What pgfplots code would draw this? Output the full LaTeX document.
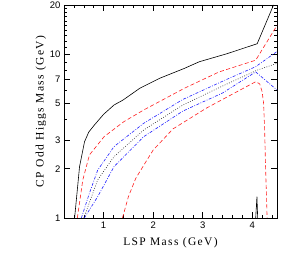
\documentclass[border=0pt]{standalone}
\usepackage{fontspec}
\setmainfont{Liberation Serif}
\setsansfont{Liberation Sans}
\newfontfamily\labfont[LetterSpace=12]{Liberation Serif}
\usepackage{pgfplots}
\pgfplotsset{compat=1.18}
\definecolor{myred}{RGB}{255,30,30}
\definecolor{myblue}{RGB}{30,30,255}
\begin{document}
\begin{tikzpicture}
\begin{axis}[
  scale only axis, width=213pt, height=213pt,
  xmin=0.2, xmax=4.5, ymin=1, ymax=20, ymode=log,
  xtick={1,2,3,4}, minor xtick={0.2,0.4,...,4.4},
  ytick={1,2,3,5,7,10,20}, yticklabels={1,2,3,5,7,10,20},
  minor ytick={4,6,8,9,11,12,13,14,15,16,17,18,19},
  tick align=inside, major tick length=6pt, minor tick length=3pt,
  every tick/.style={black, line width=0.5pt},
  axis line style={line width=0.8pt},
  /pgf/number format/assume math mode=true,
  tick label style={font=\sffamily\fontsize{9.5}{11}\selectfont},
  xlabel={LSP Mass (GeV)}, ylabel={CP Odd Higgs Mass (GeV)},
  label style={font=\labfont\fontsize{11.5}{13}\selectfont},
  xlabel style={yshift=-2pt},
  ylabel style={yshift=-3pt},
  clip=true,
]
% black solid
\addplot[black, line width=0.6pt] coordinates {
(0.414,1) (0.514,2.06) (0.614,2.92) (0.70,3.35) (0.814,3.7) (1.0,4.3) (1.21,4.9) (1.39,5.25) (1.73,6.2) (2.13,7.13) (2.63,8.2) (2.93,9.0) (3.5,10.1) (4.1,11.6) (4.43,20)};
\addplot[black, line width=0.6pt] coordinates {(4.07,1) (4.095,1.35) (4.11,1)};
% upper red
\addplot[myred, line width=0.6pt, dash pattern=on 4pt off 2.5pt] coordinates {
(0.47,1) (0.58,1.71) (0.714,2.43) (1.01,3.14) (1.41,3.88) (1.81,4.57) (2.63,6.2) (3.33,7.8) (4.07,9.2) (4.5,15)};
% upper blue
\addplot[myblue, line width=0.6pt, dash pattern=on 3pt off 1.5pt on 0.8pt off 1.5pt] coordinates {
(0.55,1) (0.714,1.42) (0.88,1.96) (1.21,2.73) (1.81,3.79) (2.6,5.3) (3.45,6.95) (4.07,8.4) (4.5,10.4)};
% dotted black
\addplot[black!80, line width=0.6pt, dash pattern=on 0.8pt off 1.6pt] coordinates {
(0.6,1) (0.88,1.71) (1.21,2.37) (1.81,3.45) (2.6,4.9) (3.4,6.4) (4.1,8.0) (4.5,8.8)};
% lower blue
\addplot[myblue, line width=0.6pt, dash pattern=on 3pt off 1.5pt on 0.8pt off 1.5pt] coordinates {
(0.61,1) (0.88,1.35) (1.21,2.06) (1.81,3.14) (2.6,4.5) (3.4,5.8) (4.07,7.8) (4.5,6.05)};
% lower red
\addplot[myred, line width=0.6pt, dash pattern=on 4pt off 2.5pt] coordinates {
(1.38,1) (1.5,1.35) (1.65,1.75) (1.81,2.1) (2.0,2.6) (2.4,3.5) (3.07,4.68) (3.5,5.5) (4.07,6.8) (4.15,6.6) (4.2,5.9) (4.23,5.0) (4.25,3.5) (4.27,2.0) (4.29,1.3) (4.3,1)};
\end{axis}
\pgfresetboundingbox
\path[use as bounding box] (current axis.south west) ++(-64pt,-38pt) rectangle ([xshift=4pt,yshift=5pt]current axis.north east);
\end{tikzpicture}
\end{document}
